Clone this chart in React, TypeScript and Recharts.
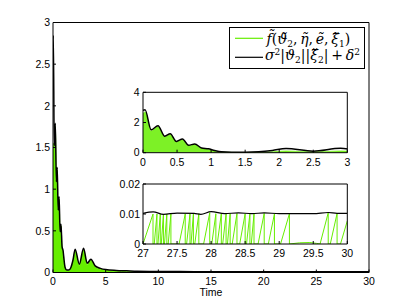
import { ComposedChart, Line, Area, XAxis, YAxis, CartesianGrid, Legend } from "recharts";

const W = 408;
const H = 306;
const GREEN = "#66ee00";
const FONT = "'Liberation Sans', Arial, Helvetica, sans-serif";
const MATH_FONT = "'DejaVu Serif', 'Liberation Serif', serif";

// whole run, 0..30 s (also used by the first zoom window)
const times = [0, 0.03, 0.12, 0.22, 0.32, 0.4, 0.49, 0.58, 0.67, 0.76, 0.86, 0.96, 1.05, 1.15, 1.3, 1.5, 1.7, 1.9, 2.1, 2.5, 2.9, 3.25, 3.6, 4.0, 4.5, 5, 6, 7, 8, 10, 12, 15, 20, 25, 30];
const bound = [2.8, 2.84, 1.52, 1.79, 1.09, 1.26, 0.75, 0.91, 0.49, 0.58, 0.31, 0.26, 0.15, 0.06, 0.03, 0.03, 0.06, 0.15, 0.28, 0.1, 0.29, 0.11, 0.16, 0.08, 0.05, 0.035, 0.025, 0.02, 0.015, 0.012, 0.011, 0.01, 0.01, 0.01, 0.01];
const fMain = [1.55, 1.55, 1.5, 1.75, 1.07, 1.23, 0.73, 0.88, 0.47, 0.56, 0.3, 0.24, 0.14, 0.05, 0.02, 0.02, 0.05, 0.14, 0.26, 0.08, 0.27, 0.09, 0.15, 0.07, 0.04, 0.025, 0.015, 0.01, 0.01, 0.008, 0.007, 0.006, 0.006, 0.006, 0.006];
const fZoom = [2.6, 2.7, 1.45, 1.72, 1.05, 1.2, 0.72, 0.86, 0.46, 0.55, 0.28, 0.22, 0.12, 0.05, 0.02, 0.01, 0.03, 0.06, 0.12, 0.06, 0.12, 0.06, 0.1, 0.05, 0.03, 0.02, 0.01, 0.01, 0.01, 0.008, 0.007, 0.006, 0.006, 0.006, 0.006];

// tail window 27..30 s
const tailT = [27, 27.15, 27.3, 27.5, 27.75, 27.85, 28.0, 28.2, 28.4, 28.6, 28.78, 29.0, 29.3, 29.5, 29.72, 29.85, 30];
const tailBound = [0.0102, 0.0107, 0.0099, 0.0103, 0.0102, 0.0099, 0.0108, 0.0101, 0.0104, 0.0101, 0.0104, 0.0101, 0.0101, 0.0101, 0.0105, 0.0102, 0.0102];

// f spikes in the tail: where the rise leaves zero, reset time, value at reset
const riseStart = [27.0, 27.165, 27.22, 27.268, 27.315, 27.37, 27.53, 27.64, 27.705, 27.76, 27.89, 28.01, 28.09, 28.17, 28.24, 28.31, 28.42, 28.52, 28.59, 28.69, 28.84, 29.02, 29.6, 29.75, 29.9];
const resetT = [27.147, 27.205, 27.254, 27.3, 27.35, 27.41, 27.62, 27.69, 27.74, 27.82, 27.98, 28.07, 28.15, 28.22, 28.28, 28.38, 28.5, 28.57, 28.63, 28.78, 28.93, 29.15, 29.72, 29.85, 30];
const peakV = [0.01, 0.01, 0.01, 0.0099, 0.01, 0.0101, 0.01, 0.01, 0.01, 0.0101, 0.0104, 0.0101, 0.0101, 0.01, 0.0101, 0.0102, 0.0101, 0.0101, 0.01, 0.0102, 0.01, 0.0101, 0.0104, 0.0102, 0.0077];
const humpT = [29.3, 29.45, 29.55];
const humpV = [0.0004, 0.0005, 0.0002];

const mainTicksX = [0, 5, 10, 15, 20, 25, 30];
const mainTicksY = [0, 0.5, 1, 1.5, 2, 2.5, 3];
const zoomTicksX = [0, 0.5, 1, 1.5, 2, 2.5, 3];
const zoomTicksY = [0, 2, 4];
const tailTicksX = [27, 27.5, 28, 28.5, 29, 29.5, 30];
const tailTicksY = [0, 0.01, 0.02];

const mainRows = times.map((t, i) => ({ t, bound: bound[i], f: fMain[i], fz: fZoom[i] }));
const tailRows = tailT.map((t, i) => ({ t, v: tailBound[i] }));

const tailGreen: { t: number; v: number }[] = [];
riseStart.forEach((s, i) => {
  const prev = tailGreen[tailGreen.length - 1];
  if (!prev || prev.t !== s) tailGreen.push({ t: s, v: 0 });
  tailGreen.push({ t: resetT[i], v: peakV[i] });
  if (i < riseStart.length - 1) tailGreen.push({ t: resetT[i], v: 0 });
});
humpT.forEach((t, i) => tailGreen.push({ t, v: humpV[i] }));
tailGreen.sort((a, b) => a.t - b.t);

const tickStyle = { fontSize: 10.5, fill: "#000", fontFamily: FONT };

type FrameOpts = {
  xDomain: [number, number];
  xTicks: number[];
  yDomain: [number, number];
  yTicks: number[];
  xGap: number;
  yGap: number;
  xHeight: number;
  xLabel?: string;
};

// box with inward ticks on all four sides, like the MATLAB axes
function frame(o: FrameOpts) {
  return [
    <XAxis
      key="xb"
      xAxisId="b"
      type="number"
      dataKey="t"
      orientation="bottom"
      domain={o.xDomain}
      ticks={o.xTicks}
      interval={0}
      allowDataOverflow
      height={o.xHeight}
      stroke="#000"
      tickSize={-3}
      tickMargin={o.xGap}
      tick={tickStyle}
      label={
        o.xLabel
          ? { value: o.xLabel, position: "insideBottom", offset: 3.8, fill: "#000", fontSize: 10.5, fontFamily: FONT }
          : undefined
      }
    />,
    <XAxis
      key="xt"
      xAxisId="t"
      type="number"
      dataKey="t"
      orientation="top"
      domain={o.xDomain}
      ticks={o.xTicks}
      interval={0}
      allowDataOverflow
      height={1}
      stroke="#000"
      tickSize={-3}
      tick={false}
    />,
    <YAxis
      key="yl"
      yAxisId="l"
      type="number"
      orientation="left"
      domain={o.yDomain}
      ticks={o.yTicks}
      interval={0}
      allowDataOverflow
      width={30}
      stroke="#000"
      tickSize={-3}
      tickMargin={o.yGap}
      tick={tickStyle}
    />,
    <YAxis
      key="yr"
      yAxisId="r"
      type="number"
      orientation="right"
      domain={o.yDomain}
      ticks={o.yTicks}
      interval={0}
      allowDataOverflow
      width={1}
      stroke="#000"
      tickSize={-3}
      tick={false}
    />,
  ];
}

type Part = [string, "i" | "r" | "sub" | "sup"];

function MathText({ x, y, parts }: { x: number; y: number; parts: Part[] }) {
  let cur = 0;
  return (
    <text x={x} y={y} fontFamily={MATH_FONT} fontSize={14} fill="#000" style={{ whiteSpace: "pre" }}>
      {parts.map(([s, k], i) => {
        const target = k === "sub" ? 3 : k === "sup" ? -5 : 0;
        const dy = target - cur;
        cur = target;
        return (
          <tspan
            key={i}
            dy={dy}
            fontStyle={k === "i" ? "italic" : "normal"}
            fontSize={k === "sub" || k === "sup" ? 9 : 14}
          >
            {s}
          </tspan>
        );
      })}
    </text>
  );
}

const fLabel: Part[] = [
  ["f\u0303", "i"], ["(", "r"], ["\u03d1\u0303", "i"], ["2", "sub"], [",\u2009", "r"],
  ["\u03b7\u0303", "i"], [",\u2009", "r"], ["\u1ebd", "i"], [",\u2009", "r"],
  ["\u03be\u0303", "i"], ["1", "sub"], [")", "r"],
];
const boundLabel: Part[] = [
  ["\u03c3", "i"], ["2", "sup"], ["|", "r"], ["\u03d1", "i"], ["2", "sub"], ["||", "r"],
  ["\u03be\u030c", "i"], ["2", "sub"], ["|\u2009+\u2009", "r"], ["\u03b4", "i"], ["2", "sup"],
];

function LegendBox() {
  return (
    <svg width={136} height={42} style={{ display: "block" }}>
      <rect x={0.5} y={0.5} width={135} height={41} fill="#fff" stroke="#000" strokeWidth={1} />
      <line x1={6} x2={34} y1={11.3} y2={11.3} stroke={GREEN} strokeWidth={1.2} />
      <MathText x={37.5} y={16.5} parts={fLabel} />
      <line x1={6} x2={34} y1={30.3} y2={30.3} stroke="#000" strokeWidth={1.2} />
      <MathText x={36} y={33} parts={boundLabel} />
    </svg>
  );
}

const layer = { position: "absolute" as const, left: 0, top: 0, width: W, height: H };

export default function App() {
  return (
    <div style={{ position: "absolute", left: 0, top: 0, width: W, height: H, background: "#fff", fontFamily: FONT }}>
      <div style={layer}>
        <ComposedChart width={W} height={H} data={mainRows} margin={{ top: 21.5, right: 38, bottom: 6.5, left: 23 }}>
          {frame({
            xDomain: [0, 30],
            xTicks: mainTicksX,
            yDomain: [0, 3],
            yTicks: mainTicksY,
            xGap: 8,
            yGap: 6,
            xHeight: 27,
            xLabel: "Time",
          })}
          <Area
            xAxisId="b"
            yAxisId="l"
            type="monotone"
            dataKey="f"
            stroke={GREEN}
            strokeWidth={1}
            fill={GREEN}
            fillOpacity={1}
            dot={false}
            activeDot={false}
            isAnimationActive={false}
          />
          <Line
            xAxisId="b"
            yAxisId="l"
            type="monotone"
            dataKey="bound"
            stroke="#000"
            strokeWidth={1.5}
            dot={false}
            activeDot={false}
            isAnimationActive={false}
          />
          <Legend
            layout="vertical"
            align="center"
            verticalAlign="middle"
            wrapperStyle={{ left: 229, top: 27, width: 136, height: 42 }}
            content={() => <LegendBox />}
          />
        </ComposedChart>
      </div>

      <div style={layer}>
        <ComposedChart width={W} height={H} data={mainRows} margin={{ top: 91.3, right: 59.7, bottom: 133.3, left: 113 }}>
          <CartesianGrid xAxisId="b" yAxisId="l" horizontal={false} vertical={false} fill="#fff" />
          {frame({
            xDomain: [0, 3],
            xTicks: zoomTicksX,
            yDomain: [0, 4],
            yTicks: zoomTicksY,
            xGap: 9,
            yGap: 6.5,
            xHeight: 20,
          })}
          <Area
            xAxisId="b"
            yAxisId="l"
            type="monotone"
            dataKey="fz"
            stroke={GREEN}
            strokeWidth={0.6}
            fill={GREEN}
            fillOpacity={0.85}
            dot={false}
            activeDot={false}
            isAnimationActive={false}
          />
          <Line
            xAxisId="b"
            yAxisId="l"
            type="monotone"
            dataKey="bound"
            stroke="#000"
            strokeWidth={1.5}
            dot={false}
            activeDot={false}
            isAnimationActive={false}
          />
        </ComposedChart>
      </div>

      <div style={layer}>
        <ComposedChart width={W} height={H} margin={{ top: 183, right: 59.7, bottom: 42, left: 113 }}>
          <CartesianGrid xAxisId="b" yAxisId="l" horizontal={false} vertical={false} fill="#fff" />
          {frame({
            xDomain: [27, 30],
            xTicks: tailTicksX,
            yDomain: [0, 0.02],
            yTicks: tailTicksY,
            xGap: 9,
            yGap: 6,
            xHeight: 20,
          })}
          <Line
            xAxisId="b"
            yAxisId="l"
            data={tailGreen}
            type="linear"
            dataKey="v"
            stroke={GREEN}
            strokeWidth={1}
            dot={false}
            activeDot={false}
            isAnimationActive={false}
          />
          <Line
            xAxisId="b"
            yAxisId="l"
            data={tailRows}
            type="monotone"
            dataKey="v"
            stroke="#000"
            strokeWidth={1.2}
            dot={false}
            activeDot={false}
            isAnimationActive={false}
          />
        </ComposedChart>
      </div>
    </div>
  );
}
